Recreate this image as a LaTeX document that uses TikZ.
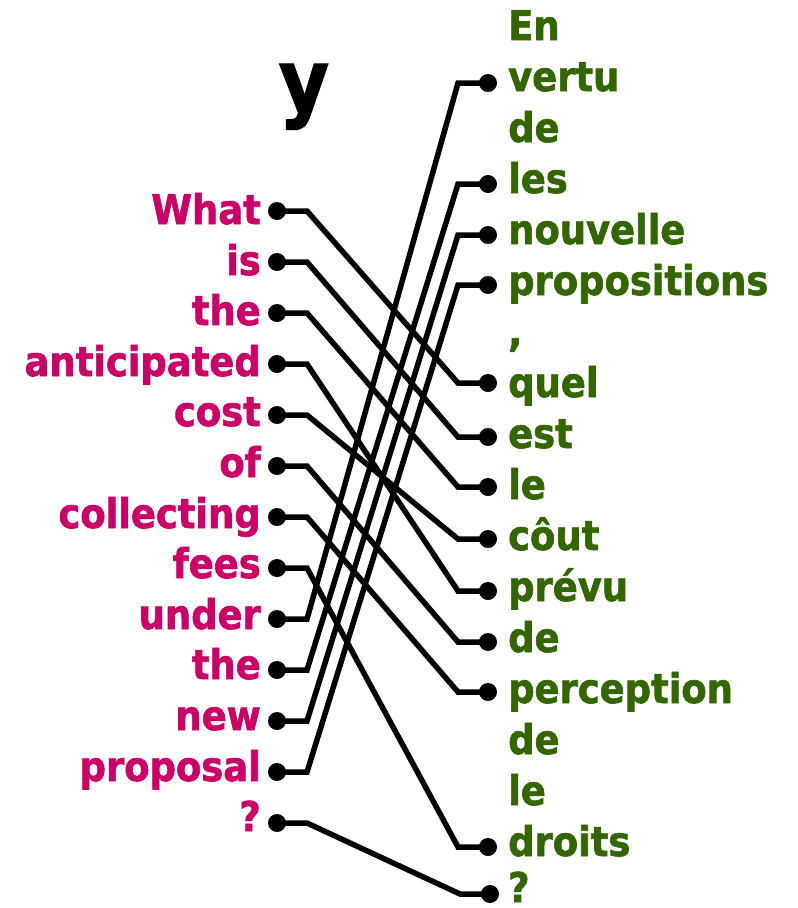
\documentclass[tikz,border=0pt]{standalone}
\usepackage{fontspec}
\newfontfamily\wordfont{DejaVu Sans Condensed}[FakeBold=1.5]
\usepackage{tikz}
\definecolor{srccol}{HTML}{CC0066}
\definecolor{tgtcol}{HTML}{336600}

\begin{document}
\begin{tikzpicture}[x=1pt,y=-1pt, every node/.style={font=\wordfont\bfseries\fontsize{41}{41}\selectfont},
  srcword/.style={anchor=base east, inner sep=0pt, text=srccol},
  tgtword/.style={anchor=base west, inner sep=0pt, text=tgtcol},
  dot/.style={circle, fill=black, inner sep=0pt, minimum size=18pt},
  link/.style={line width=5.5pt}]
  \useasboundingbox (0,0) rectangle (798,908);
  % title
  \node[anchor=base, inner sep=0pt, font=\wordfont\bfseries\fontsize{86}{86}\selectfont] (title) at (304,111) {y};
  % source sentence
  \node[srcword] (what) at (261,224) {What};
  \node[srcword] (is) at (261,275) {is};
  \node[srcword] (the) at (261,325) {the};
  \node[srcword] (anticipated) at (261,376) {anticipated};
  \node[srcword] (cost) at (261,426) {cost};
  \node[srcword] (of) at (261,477) {of};
  \node[srcword] (collecting) at (261,528) {collecting};
  \node[srcword] (fees) at (261,578) {fees};
  \node[srcword] (under) at (261,629) {under};
  \node[srcword] (the2) at (261,679) {the};
  \node[srcword] (new) at (261,730) {new};
  \node[srcword] (proposal) at (261,781) {proposal};
  \node[srcword] (qmark) at (261,831) {?};
  % target sentence
  \node[tgtword] (en) at (508,40) {En};
  \node[tgtword] (vertu) at (508,91) {vertu};
  \node[tgtword] (de) at (508,142) {de};
  \node[tgtword] (les) at (508,193) {les};
  \node[tgtword] (nouvelle) at (508,244) {nouvelle};
  \node[tgtword] (propositions) at (508,295) {propositions};
  \node[tgtword] (comma) at (508,346) {,};
  \node[tgtword] (quel) at (508,397) {quel};
  \node[tgtword] (est) at (508,448) {est};
  \node[tgtword] (le) at (508,499) {le};
  \node[tgtword] (cout) at (508,550) {côut};
  \node[tgtword] (prevu) at (508,601) {prévu};
  \node[tgtword] (de2) at (508,652) {de};
  \node[tgtword] (perception) at (508,703) {perception};
  \node[tgtword] (de3) at (508,754) {de};
  \node[tgtword] (le2) at (508,805) {le};
  \node[tgtword] (droits) at (508,856) {droits};
  \node[tgtword] (fqmark) at (508,902) {?};
  % dots
  \node[dot] (dwhat) at (277,211) {};
  \node[dot] (dis) at (277,262) {};
  \node[dot] (dthe) at (277,313) {};
  \node[dot] (danticipated) at (277,364) {};
  \node[dot] (dcost) at (277,415) {};
  \node[dot] (dof) at (277,466) {};
  \node[dot] (dcollecting) at (277,517) {};
  \node[dot] (dfees) at (277,568) {};
  \node[dot] (dunder) at (277,619) {};
  \node[dot] (dthe2) at (277,670) {};
  \node[dot] (dnew) at (277,721) {};
  \node[dot] (dproposal) at (277,772) {};
  \node[dot] (dqmark) at (277,823) {};
  \node[dot] (dvertu) at (488,83) {};
  \node[dot] (dles) at (488,184) {};
  \node[dot] (dnouvelle) at (488,235) {};
  \node[dot] (dpropositions) at (488,285) {};
  \node[dot] (dquel) at (488,383) {};
  \node[dot] (dest) at (488,437) {};
  \node[dot] (dle) at (488,487) {};
  \node[dot] (dcout) at (488,539) {};
  \node[dot] (dprevu) at (488,591) {};
  \node[dot] (dde2) at (488,642) {};
  \node[dot] (dperception) at (488,692) {};
  \node[dot] (ddroits) at (488,847) {};
  \node[dot] (dfqmark) at (490,894) {};
  % alignment links
  \draw[link] (dwhat.center) -- ++(30,0) -- ([xshift=-30pt]dquel.center) -- (dquel.center);
  \draw[link] (dis.center) -- ++(30,0) -- ([xshift=-30pt]dest.center) -- (dest.center);
  \draw[link] (dthe.center) -- ++(30,0) -- ([xshift=-30pt]dle.center) -- (dle.center);
  \draw[link] (danticipated.center) -- ++(30,0) -- ([xshift=-30pt]dprevu.center) -- (dprevu.center);
  \draw[link] (dcost.center) -- ++(30,0) -- ([xshift=-30pt]dcout.center) -- (dcout.center);
  \draw[link] (dof.center) -- ++(30,0) -- ([xshift=-30pt]dde2.center) -- (dde2.center);
  \draw[link] (dcollecting.center) -- ++(30,0) -- ([xshift=-30pt]dperception.center) -- (dperception.center);
  \draw[link] (dfees.center) -- ++(30,0) -- ([xshift=-30pt]ddroits.center) -- (ddroits.center);
  \draw[link] (dunder.center) -- ++(30,0) -- ([xshift=-30pt]dvertu.center) -- (dvertu.center);
  \draw[link] (dthe2.center) -- ++(30,0) -- ([xshift=-30pt]dles.center) -- (dles.center);
  \draw[link] (dnew.center) -- ++(30,0) -- ([xshift=-30pt]dnouvelle.center) -- (dnouvelle.center);
  \draw[link] (dproposal.center) -- ++(30,0) -- ([xshift=-30pt]dpropositions.center) -- (dpropositions.center);
  \draw[link] (dqmark.center) -- ++(30,0) -- ([xshift=-30pt]dfqmark.center) -- (dfqmark.center);
\end{tikzpicture}
\end{document}
